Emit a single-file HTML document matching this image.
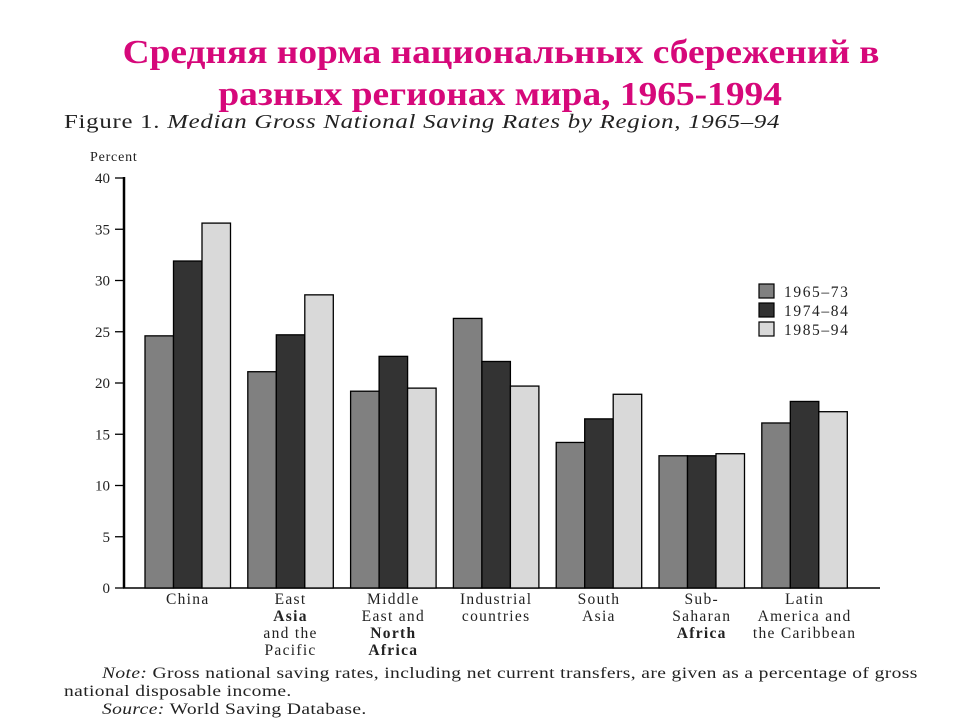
<!DOCTYPE html>
<html><head><meta charset="utf-8"><style>
body{margin:0;background:#fff;width:960px;height:720px;overflow:hidden;position:relative;font-family:"Liberation Serif",serif}
.t{position:absolute;left:0;width:960px;text-align:center;color:#d6087a;font-weight:bold;font-size:34px;line-height:40px}
.t span{display:inline-block;transform:scaleX(1.1)}
.p{position:absolute;color:#222;font-size:15px;white-space:nowrap;transform-origin:left top}
</style></head><body>
<div class="t" style="top:33px;left:21px"><span>Средняя норма национальных сбережений в</span></div>
<div class="t" style="top:75px;left:20px"><span>разных регионах мира, 1965-1994</span></div>
<div class="p" style="left:64px;top:111px;font-size:20px;letter-spacing:0.6px;transform:scaleX(1.24)">Figure 1. <i>Median Gross National Saving Rates by Region, 1965–94</i></div>
<div class="p" style="left:102px;top:665px;font-size:15.5px;letter-spacing:0.3px;transform:scaleX(1.26)"><i>Note:</i> Gross national saving rates, including net current transfers, are given as a percentage of gross</div>
<div class="p" style="left:64px;top:683px;font-size:15.5px;letter-spacing:0.3px;transform:scaleX(1.26)">national disposable income.</div>
<div class="p" style="left:102px;top:701px;font-size:15.5px;letter-spacing:0.3px;transform:scaleX(1.26)"><i>Source:</i> World Saving Database.</div>
<svg id="c" width="960" height="720" style="position:absolute;left:0;top:0"></svg>
<script>
const categories=[["China"],["East","Asia","and the","Pacific"],["Middle","East and","North","Africa"],["Industrial","countries"],["South","Asia"],["Sub-","Saharan","Africa"],["Latin","America and","the Caribbean"]];
const s1=[24.6,21.1,19.2,26.3,14.2,12.9,16.1];
const s2=[31.9,24.7,22.6,22.1,16.5,12.9,18.2];
const s3=[35.6,28.6,19.5,19.7,18.9,13.1,17.2];
const seriesNames=["1965–73","1974–84","1985–94"];
const ticks=[0,5,10,15,20,25,30,35,40];
const colors=["#808080","#333333","#d9d9d9"];
const NS="http://www.w3.org/2000/svg",svg=document.getElementById('c');
function el(t,a,txt){const e=document.createElementNS(NS,t);for(const k in a)e.setAttribute(k,a[k]);if(txt!==undefined)e.textContent=txt;svg.appendChild(e);return e;}
const y0=588,y40=178;
function Y(v){return y0-(v/40)*(y0-y40);}
function X(i){return 145+i*102.8;}
const bw=28.5;
let ax=el('line',{x1:124,y1:y40-1,x2:124,y2:y0,stroke:'#000','stroke-width':2.5});

let bx=el('line',{x1:123,y1:y0,x2:880,y2:y0,stroke:'#000','stroke-width':1.5});

let pt=el('text',{x:90,y:161,'font-size':14,'font-family':'Liberation Serif',fill:'#222','letter-spacing':0.8},'Percent');

ticks.forEach(v=>{
 const l=el('line',{x1:115,y1:Y(v),x2:124,y2:Y(v),stroke:'#000','stroke-width':1.3});
 
 const t=el('text',{x:110,y:Y(v)+5,'text-anchor':'end','font-size':15,'font-family':'Liberation Serif',fill:'#222'},v);
 
});
[s1,s2,s3].forEach((s,k)=>{s.forEach((v,i)=>{
 const r=el('rect',{x:X(i)+k*bw,y:Y(v),width:bw,height:y0-Y(v),fill:colors[k],stroke:'#000','stroke-width':1.3});
 
 
});});
const boldWords=["Asia","North","Africa"];
categories.forEach((c,i)=>{c.forEach((ln,j)=>{
 const t=el('text',{x:X(i)+1.5*bw,y:604+j*17,'text-anchor':'middle','font-size':15.5,'font-family':'Liberation Serif',fill:'#222','letter-spacing':1.3,'font-weight':(boldWords.includes(ln)&&i!==4)?'bold':'normal'},ln);
 
});});
seriesNames.forEach((n,k)=>{
 const r=el('rect',{x:759,y:284+k*19,width:15,height:14,fill:colors[k],stroke:'#000','stroke-width':1.2});
 
 const t=el('text',{x:784,y:297+k*19,'font-size':15.5,'font-family':'Liberation Serif',fill:'#222','letter-spacing':1.6},n);
 
});
</script>
</body></html>
